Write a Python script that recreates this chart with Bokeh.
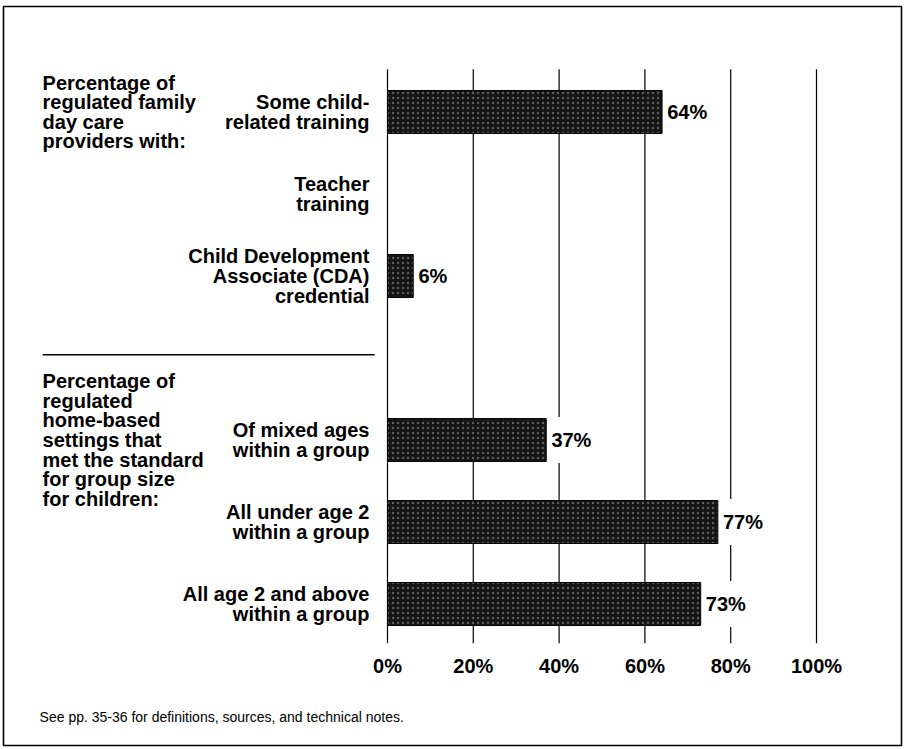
from bokeh.plotting import figure
from bokeh.models import Range1d, ColumnDataSource
from bokeh.core.properties import value
from bokeh.embed import file_html
from bokeh.resources import INLINE

# ---- data ----
categories = [
    "Some child-\nrelated training",
    "Teacher\ntraining",
    "Child Development\nAssociate (CDA)\ncredential",
    "Of mixed ages\nwithin a group",
    "All under age 2\nwithin a group",
    "All age 2 and above\nwithin a group",
]
slots = [0, 1, 2, 4, 5, 6]
values = [64, None, 6, 37, 77, 73]
value_labels = ["64%", "", "6%", "37%", "77%", "73%"]

group_titles = [
    "Percentage of\nregulated family\nday care\nproviders with:",
    "Percentage of\nregulated\nhome-based\nsettings that\nmet the standard\nfor group size\nfor children:",
]
group_slots = [0, 4]

ticks = [0, 20, 40, 60, 80, 100]
tick_labels = ["0%", "20%", "40%", "60%", "80%", "100%"]

footnote = "See pp. 35-36 for definitions, sources, and technical notes."

# ---- layout constants (page pixels) ----
FIG_W, FIG_H = 904, 749
FRAME_L, FRAME_T, FRAME_R, FRAME_B = 3, 6, 901, 745
ZERO_X = 387.0          # page x of 0%
PX_PER = 4.29           # pixels per percent
SLOT0_Y = 111.5         # page y of slot 0 centre
SLOT_PX = 82.0          # pixels per slot
BAR_H = 0.524
BOX_H = 0.56
LABEL_X = -4.2
LEFT_X = -80.4
FONT = "Liberation Sans"
LH = 0.89

x_start = (FRAME_L - ZERO_X) / PX_PER
x_end = (FRAME_R - ZERO_X) / PX_PER
y_top = (FRAME_T - SLOT0_Y) / SLOT_PX
y_bot = (FRAME_B - SLOT0_Y) / SLOT_PX

p = figure(width=FIG_W, height=FIG_H, output_backend="svg", toolbar_location=None,
           x_range=Range1d(x_start, x_end), y_range=Range1d(y_bot, y_top),
           min_border_left=FRAME_L, min_border_right=FIG_W - FRAME_R,
           min_border_top=FRAME_T, min_border_bottom=FIG_H - FRAME_B)
p.axis.visible = False
p.grid.visible = False
p.outline_line_color = "black"
p.outline_line_width = 1.6
p.background_fill_color = "white"
p.border_fill_color = "white"

# gridlines
grid_top, grid_bot = -0.52, 6.48
p.segment(x0=ticks, x1=ticks, y0=[grid_top] * len(ticks), y1=[grid_bot] * len(ticks),
          line_color="black", line_width=1.2)

# bars
bar_slots = [s for s, v in zip(slots, values) if v is not None]
bar_vals = [v for v in values if v is not None]
bar_lbls = [l for l, v in zip(value_labels, values) if v is not None]
src = ColumnDataSource(dict(y=bar_slots, right=bar_vals, lbl=bar_lbls,
                            lx=[v + 1.2 for v in bar_vals],
                            bl=[v + 0.6 for v in bar_vals],
                            br=[v + 10.5 for v in bar_vals],
                            bt=[s - BOX_H / 2 for s in bar_slots],
                            bb=[s + BOX_H / 2 for s in bar_slots]))
p.hbar(y="y", left=0, right="right", height=BAR_H, source=src,
       fill_color="#141414", line_color="black", line_width=1,
       hatch_pattern="dot", hatch_color="white", hatch_alpha=0.3,
       hatch_scale=5, hatch_weight=1.2)

# white boxes behind value labels (they interrupt gridlines)
p.quad(left="bl", right="br", top="bt", bottom="bb", source=src,
       fill_color="white", line_color=None)

p.text(x="lx", y="y", text="lbl", source=src, text_font=value(FONT),
       text_font_style="bold", text_font_size="20px", text_baseline="middle",
       text_align="left", text_color="black")

# category labels
p.text(x=[LABEL_X] * len(categories), y=slots, text=categories,
       text_font=value(FONT), text_font_style="bold", text_font_size="20px",
       text_baseline="middle", text_align="right", text_line_height=LH,
       text_color="black")

# group titles
p.text(x=[LEFT_X] * len(group_titles), y=group_slots, text=group_titles,
       text_font=value(FONT), text_font_style="bold", text_font_size="20px",
       text_baseline="middle", text_align="left", text_line_height=LH,
       text_color="black")

# separator
p.segment(x0=[LEFT_X], x1=[-3.0], y0=[2.96], y1=[2.96], line_color="black", line_width=1.5)

# tick labels
p.text(x=ticks, y=[6.75] * len(ticks), text=tick_labels, text_font=value(FONT),
       text_font_style="bold", text_font_size="20px", text_baseline="middle",
       text_align="center", text_color="black")

# footnote
p.text(x=[-81.1], y=[7.38], text=[footnote],
       text_font=value("Liberation Sans Narrow, Liberation Sans"),
       text_font_size="14px", text_baseline="middle", text_align="left",
       text_color="black")

open("out.html", "w").write(file_html(p, INLINE))
